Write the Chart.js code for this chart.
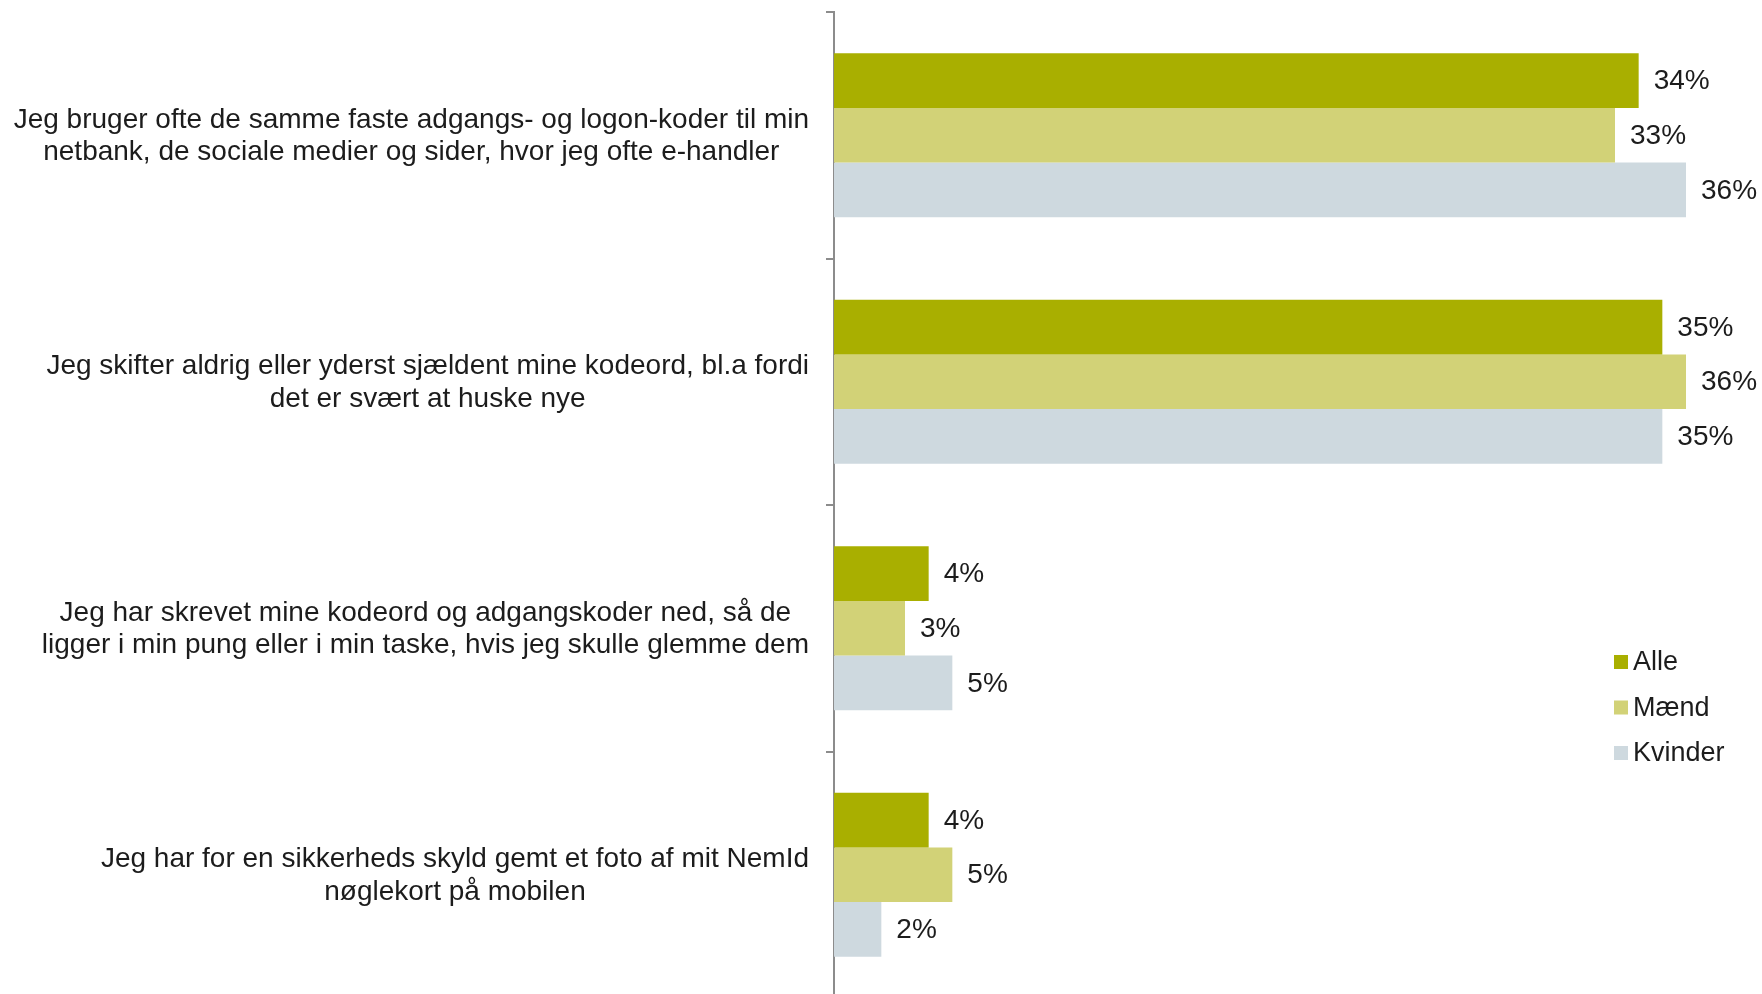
<!DOCTYPE html>
<html>
<head>
<meta charset="utf-8">
<script src="https://cdn.jsdelivr.net/npm/chart.js@4/dist/chart.umd.min.js"></script>
<style>
  html, body { margin: 0; padding: 0; background: #fff; overflow: hidden; }
  #wrap { position: relative; width: 1762px; height: 1000px; }
</style>
</head>
<body>
<div id="wrap"><canvas id="c"></canvas></div>
<script>
const categories = [
  ["Jeg bruger ofte de samme faste adgangs- og logon-koder til min", "netbank, de sociale medier og sider, hvor jeg ofte e-handler"],
  ["Jeg skifter aldrig eller yderst sjældent mine kodeord, bl.a fordi", "det er svært at huske nye"],
  ["Jeg har skrevet mine kodeord og adgangskoder ned, så de", "ligger i min pung eller i min taske, hvis jeg skulle glemme dem"],
  ["Jeg har for en sikkerheds skyld gemt et foto af mit NemId", "nøglekort på mobilen"]
];
const seriesNames = ["Alle", "Mænd", "Kvinder"];
const alle = [34, 35, 4, 4];
const maend = [33, 36, 3, 5];
const kvinder = [36, 35, 5, 2];
const seriesColors = ["#a9af00", "#d2d277", "#ced9df"];

const FONT = '"Liberation Sans", Arial, sans-serif';
const TEXT = '#1c1c1c';

const labelPlugin = {
  id: 'customLabels',
  afterDatasetsDraw(chart) {
    const ctx = chart.ctx;
    const yScale = chart.scales.y;
    // category labels
    ctx.save();
    ctx.font = '28px ' + FONT;
    ctx.fillStyle = TEXT;
    ctx.textAlign = 'center';
    ctx.textBaseline = 'middle';
    const rightEdge = chart.chartArea.left - 25;
    const lh = 32.5;
    categories.forEach((lines, i) => {
      const yc = yScale.getPixelForValue(i);
      const maxW = Math.max(...lines.map(l => ctx.measureText(l).width));
      const cx = rightEdge - maxW / 2;
      lines.forEach((l, j) => {
        const y = yc + (j - (lines.length - 1) / 2) * lh + 1;
        ctx.fillText(l, cx, y);
      });
    });
    // data labels
    ctx.font = '28px ' + FONT;
    ctx.textAlign = 'left';
    chart.data.datasets.forEach((ds, di) => {
      const meta = chart.getDatasetMeta(di);
      meta.data.forEach((bar, i) => {
        ctx.fillText(ds.data[i] + '%', bar.x + 15, bar.y + 1);
      });
    });
    // legend
    ctx.font = '27px ' + FONT;
    ctx.textBaseline = 'middle';
    const lx = 1614, ly0 = 662, step = 45.5;
    chart.data.datasets.forEach((ds, di) => {
      const y = ly0 + di * step;
      ctx.fillStyle = ds.backgroundColor;
      ctx.fillRect(lx, y - 7, 14, 14);
      ctx.fillStyle = TEXT;
      ctx.fillText(ds.label, lx + 19, y + 1);
    });
    ctx.restore();
  }
};

new Chart(document.getElementById('c'), {
  type: 'bar',
  data: {
    labels: categories.map(c => c.join(' ')),
    datasets: [
      { label: seriesNames[0], data: alle, backgroundColor: seriesColors[0] },
      { label: seriesNames[1], data: maend, backgroundColor: seriesColors[1] },
      { label: seriesNames[2], data: kvinder, backgroundColor: seriesColors[2] }
    ]
  },
  options: {
    indexAxis: 'y',
    responsive: true,
    maintainAspectRatio: false,
    animation: false,
    layout: { padding: { top: 12, right: 5, bottom: 2, left: 0 } },
    datasets: { bar: { categoryPercentage: 0.665, barPercentage: 1.0, borderWidth: 0 } },
    plugins: { legend: { display: false }, tooltip: { enabled: false } },
    scales: {
      x: { display: false, min: 0, max: 39 },
      y: {
        afterFit(scale) { scale.width = 834; },
        ticks: { display: false },
        grid: { display: true, drawOnChartArea: false, drawTicks: true, tickLength: 8, color: '#8c8c8c', lineWidth: 2, offset: true },
        border: { display: true, color: '#8c8c8c', width: 2 }
      }
    }
  },
  plugins: [labelPlugin]
});
</script>
</body>
</html>
